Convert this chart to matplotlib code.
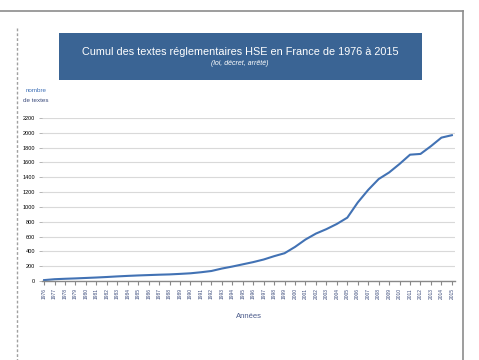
import matplotlib.pyplot as plt
from matplotlib.lines import Line2D
from matplotlib.patches import Rectangle

# cumulative count of HSE regulatory texts per year
annees = list(range(1976, 2016))
cumul = [12, 24, 30, 35, 41, 47, 54, 62, 69, 75,
         80, 85, 89, 96, 104, 118, 135, 168, 195, 225,
         255, 290, 335, 375, 460, 560, 640, 700, 770, 855,
         1060, 1230, 1376, 1465, 1580, 1705, 1715, 1820, 1935, 1968]
yticks = list(range(0, 2400, 200))

W, H = 479, 360
fig = plt.figure(figsize=(W / 100, H / 100), dpi=100)
fig.patch.set_facecolor('white')

police = ['Liberation Sans', 'DejaVu Sans']

def fx(x):
    return x / W

def fy(y):
    return 1 - y / H

# outer frame (top + right) and dashed left guide
fig.add_artist(Line2D([fx(0), fx(463)], [fy(11), fy(11)], color='#8c8c8c', lw=1.2))
fig.add_artist(Line2D([fx(463), fx(463)], [fy(11), fy(360)], color='#8c8c8c', lw=1.2))
fig.add_artist(Line2D([fx(17), fx(17)], [fy(28), fy(360)], color='#a0a0a0', lw=1,
                      linestyle=(0, (2, 1.5))))

# title box
fig.add_artist(Rectangle((fx(59), fy(80)), fx(421.7) - fx(59), fy(33) - fy(80),
                         transform=fig.transFigure, facecolor='#3a6494', edgecolor='none'))
fig.text(fx(240), fy(52), "Cumul des textes réglementaires HSE en France de 1976 à 2015",
         color='white', fontsize=7.8, family=police, ha='center', va='center')
fig.text(fx(240), fy(63.5), "(loi, décret, arrêté)", color='white', fontsize=5,
         family=police, style='italic', ha='center', va='center')

# y-axis title
fig.text(fx(36), fy(91), "nombre", color='#3d6fb6', fontsize=4.5, family=police,
         ha='center', va='center')
fig.text(fx(36), fy(101), "de textes", color='#3a4a7a', fontsize=4.5, family=police,
         ha='center', va='center')

ax = fig.add_axes([fx(42), fy(281), fx(455) - fx(42), fy(118) - fy(281)])
ax.plot(annees, cumul, color='#4272b4', lw=1.5, solid_joinstyle='round')

ax.set_xlim(1975.8, 2015.3)
ax.set_ylim(0, 2200)
ax.set_yticks(yticks)
ax.set_yticklabels([str(v) for v in yticks], fontsize=4, family=police)
ax.set_xticks(annees)
ax.set_xticklabels([str(a) for a in annees], rotation=90, fontsize=3.5,
                   family=police, color='#3a4a7a')

ax.grid(axis='y', color='#d9d9d9', lw=0.8)
ax.set_axisbelow(True)
for s in ['top', 'right', 'left']:
    ax.spines[s].set_visible(False)
ax.spines['bottom'].set_color('#888888')
ax.spines['bottom'].set_linewidth(1)
ax.tick_params(axis='y', length=2, width=0.6, color='#aaaaaa', pad=3)
ax.tick_params(axis='x', length=3, width=0.8, color='#888888', pad=2)

ax.set_xlabel("Années", fontsize=5.5, family=police, color='#4a5a8a', labelpad=10)

fig.savefig('out.png', dpi=100)
